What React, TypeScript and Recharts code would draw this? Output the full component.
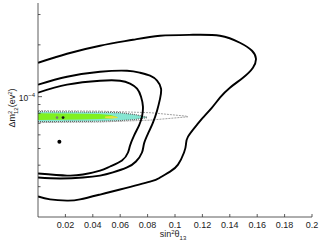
import React from 'react';
import { ComposedChart, Line, Area, Scatter, XAxis, YAxis } from 'recharts';

// axis ticks
const xTicks = [0.02, 0.04, 0.06, 0.08, 0.1, 0.12, 0.14, 0.16, 0.18, 0.2];
const yTicks = [3e-5, 4e-5, 5e-5, 6e-5, 7e-5, 8e-5, 9e-5, 1e-4, 2e-4, 3e-4];

// solid contours: [sin^2 theta13, dm2_12]
const outerContour: [number, number][] = [
  [0, 1.574e-4], [0.0212, 1.776e-4], [0.0453, 1.976e-4], [0.0693, 2.14e-4], [0.0891, 2.258e-4],
  [0.1131, 2.288e-4], [0.1328, 2.258e-4], [0.1474, 2.056e-4], [0.1562, 1.848e-4], [0.1591, 1.661e-4],
  [0.1569, 1.473e-4], [0.1496, 1.288e-4], [0.1401, 1.128e-4], [0.1328, 0.987e-4], [0.127, 8.64e-5],
  [0.1204, 7.56e-5], [0.1161, 6.88e-5], [0.1095, 5.86e-5], [0.108, 5.27e-5], [0.1066, 4.74e-5],
  [0.1022, 4.03e-5], [0.0964, 3.67e-5], [0.0891, 3.39e-5], [0.0818, 3.21e-5], [0.0599, 2.89e-5],
  [0.0453, 2.7e-5], [0.0307, 2.53e-5], [0.0212, 2.49e-5], [0.0088, 2.53e-5], [0, 2.63e-5],
];

const middleContour: [number, number][] = [
  [0, 1.174e-4], [0.0212, 1.306e-4], [0.0453, 1.396e-4], [0.065, 1.415e-4], [0.0745, 1.377e-4],
  [0.0818, 1.323e-4], [0.0869, 1.238e-4], [0.0898, 1.113e-4], [0.0891, 9.74e-5], [0.0869, 8.29e-5],
  [0.0839, 7.07e-5], [0.0803, 6.1e-5], [0.0774, 5.34e-5], [0.0759, 4.74e-5], [0.0715, 4.2e-5],
  [0.065, 3.88e-5], [0.0547, 3.63e-5], [0.0453, 3.48e-5], [0.0328, 3.39e-5], [0.0161, 3.35e-5],
  [0, 3.39e-5],
];

const innerContour: [number, number][] = [
  [0, 1.055e-4], [0.0212, 1.174e-4], [0.0453, 1.238e-4], [0.0599, 1.238e-4], [0.0672, 1.19e-4],
  [0.0723, 1.113e-4], [0.0752, 1.0e-4], [0.0766, 8.75e-5], [0.0759, 7.66e-5], [0.0737, 6.79e-5],
  [0.0701, 5.94e-5], [0.0672, 5.2e-5], [0.0657, 4.74e-5], [0.0613, 4.26e-5], [0.0526, 3.93e-5],
  [0.0453, 3.72e-5], [0.0328, 3.53e-5], [0.0212, 3.48e-5], [0, 3.58e-5],
];

// dashed contour
const dashedContour: [number, number][] = [
  [0, 8.29e-5], [0.045, 8.24e-5], [0.082, 8.07e-5], [0.108, 7.71e-5], [0.1095, 7.64e-5],
  [0.082, 7.31e-5], [0.045, 7.12e-5], [0, 7.07e-5],
];

// filled regions
const cyanX = [0, 0.0453, 0.0599, 0.0708, 0.0796];
const cyanHi = [8.18e-5, 8.13e-5, 8.07e-5, 7.87e-5, 7.61e-5];
const cyanLo = [7.16e-5, 7.2e-5, 7.26e-5, 7.36e-5, 7.56e-5];

const greenX = [0, 0.031, 0.045, 0.053, 0.058];
const greenHi = [8.02e-5, 7.97e-5, 7.92e-5, 7.82e-5, 7.61e-5];
const greenLo = [7.31e-5, 7.36e-5, 7.41e-5, 7.46e-5, 7.56e-5];

const yellowX = [0.049, 0.054, 0.058];
const yellowHi = [7.66e-5, 7.71e-5, 7.61e-5];
const yellowLo = [7.51e-5, 7.46e-5, 7.51e-5];

// best fit points
const bestFit: [number, number][] = [[0.0156, 5.48e-5]];
const bandFitBlack: [number, number][] = [[0.0183, 7.56e-5]];
const bandFitGray: [number, number][] = [[0.0139, 7.56e-5]];

const font = '"Liberation Sans", Arial, sans-serif';
const axisColor = '#333';

const toPts = (arr: [number, number][]) => arr.map(([x, y]) => ({ x, y }));
const toRange = (xs: number[], lo: number[], hi: number[]) =>
  xs.map((x, i) => ({ x, range: [lo[i], hi[i]] }));

const BottomTick = (props: any) => {
  const { x, y, payload } = props;
  return (
    <g>
      <line x1={x} x2={x} y1={y} y2={y - 3} stroke={axisColor} strokeWidth={0.8} />
      <text x={x} y={y + 11} textAnchor="middle" fontSize={9} fontFamily={font} fill="#222">
        {String(payload.value)}
      </text>
    </g>
  );
};

const TopTick = (props: any) => {
  const { x, y } = props;
  return <line x1={x} x2={x} y1={y} y2={y + 3} stroke={axisColor} strokeWidth={0.8} />;
};

const LeftTick = (props: any) => {
  const { x, y, payload } = props;
  const major = payload.value === 1e-4;
  return (
    <g>
      <line x1={x} x2={x + (major ? 4 : 2.5)} y1={y} y2={y} stroke={axisColor} strokeWidth={0.8} />
      {major && (
        <text x={x - 3} y={y + 4} textAnchor="end" fontSize={8.5} fontFamily={font} fill="#222">
          10<tspan dy={-4} fontSize={6}>−4</tspan>
        </text>
      )}
    </g>
  );
};

const RightTick = (props: any) => {
  const { x, y, payload } = props;
  const major = payload.value === 1e-4;
  return <line x1={x} x2={x - (major ? 4 : 2.5)} y1={y} y2={y} stroke={axisColor} strokeWidth={0.8} />;
};

const YLabel = (props: any) => {
  const vb = props.viewBox || { x: 0, y: 3, width: 38, height: 214 };
  const cx = 15;
  const cy = vb.y + vb.height / 2 - 2;
  return (
    <text
      x={cx}
      y={cy}
      transform={`rotate(-90, ${cx}, ${cy})`}
      textAnchor="middle"
      fontSize={9}
      fontFamily={font}
      fill="#222"
    >
      Δm<tspan dy={-3.5} fontSize={6}>2</tspan>
      <tspan dx={-3.3} dy={6} fontSize={6}>12</tspan>
      <tspan dy={-2.5}>(ev</tspan>
      <tspan dy={-3.5} fontSize={6}>2</tspan>
      <tspan dy={3.5}>)</tspan>
    </text>
  );
};

const XLabel = (props: any) => {
  const vb = props.viewBox || { x: 38, y: 217, width: 274, height: 30 };
  const cx = vb.x + vb.width / 2 - 2;
  const cy = 237;
  return (
    <text x={cx} y={cy} textAnchor="middle" fontSize={9} fontFamily={font} fill="#222">
      sin<tspan dy={-3.5} fontSize={6}>2</tspan>
      <tspan dy={3.5}>θ</tspan>
      <tspan dy={3} fontSize={6}>13</tspan>
    </text>
  );
};

export default function App() {
  return (
    <div style={{ position: 'absolute', left: 0, top: 0, width: 320, height: 247, background: '#fff' }}>
      <ComposedChart width={320} height={247} margin={{ top: 3, right: 8, bottom: 0, left: 0 }}>
        <XAxis
          xAxisId="bottom"
          type="number"
          dataKey="x"
          domain={[0, 0.2]}
          ticks={xTicks}
          interval={0}
          allowDataOverflow
          height={30}
          tickSize={0}
          tickMargin={0}
          tickLine={false}
          tick={<BottomTick />}
          axisLine={{ stroke: axisColor, strokeWidth: 0.8 }}
          label={<XLabel />}
        />
        <XAxis
          xAxisId="top"
          orientation="top"
          type="number"
          dataKey="x"
          domain={[0, 0.2]}
          ticks={xTicks}
          interval={0}
          allowDataOverflow
          height={0}
          tickSize={0}
          tickMargin={0}
          tickLine={false}
          tick={<TopTick />}
          axisLine={{ stroke: '#666', strokeWidth: 0.8 }}
        />
        <YAxis
          yAxisId="left"
          type="number"
          scale="log"
          domain={[2e-5, 3.5e-4]}
          ticks={yTicks}
          interval={0}
          allowDataOverflow
          width={38}
          tickSize={0}
          tickMargin={0}
          tickLine={false}
          tick={<LeftTick />}
          axisLine={{ stroke: axisColor, strokeWidth: 0.8 }}
          label={<YLabel />}
        />
        <YAxis
          yAxisId="right"
          orientation="right"
          type="number"
          scale="log"
          domain={[2e-5, 3.5e-4]}
          ticks={yTicks}
          interval={0}
          allowDataOverflow
          width={0}
          tickSize={0}
          tickMargin={0}
          tickLine={false}
          tick={<RightTick />}
          axisLine={{ stroke: '#666', strokeWidth: 0.8 }}
        />

        <Area
          xAxisId="bottom"
          yAxisId="left"
          data={toRange(cyanX, cyanLo, cyanHi)}
          dataKey="range"
          type="linear"
          fill="#86e6d2"
          fillOpacity={1}
          stroke="#666"
          strokeWidth={1.2}
          strokeDasharray="1 1"
          isAnimationActive={false}
        />
        <Area
          xAxisId="bottom"
          yAxisId="left"
          data={toRange(greenX, greenLo, greenHi)}
          dataKey="range"
          type="linear"
          fill="#80f020"
          fillOpacity={1}
          stroke="none"
          isAnimationActive={false}
        />
        <Area
          xAxisId="bottom"
          yAxisId="left"
          data={toRange(yellowX, yellowLo, yellowHi)}
          dataKey="range"
          type="linear"
          fill="#e8e040"
          fillOpacity={1}
          stroke="none"
          isAnimationActive={false}
        />
        <Line
          xAxisId="bottom"
          yAxisId="left"
          data={toPts(dashedContour)}
          dataKey="y"
          type="linear"
          stroke="#888"
          strokeWidth={0.8}
          strokeDasharray="2 1"
          dot={false}
          isAnimationActive={false}
        />
        <Scatter
          xAxisId="bottom"
          yAxisId="left"
          data={toPts(bandFitGray)}
          dataKey="y"
          fill="#777"
          shape={(p: any) => <circle cx={p.cx} cy={p.cy} r={1.3} fill="#777" />}
          isAnimationActive={false}
        />
        <Scatter
          xAxisId="bottom"
          yAxisId="left"
          data={toPts(bandFitBlack)}
          dataKey="y"
          fill="#111"
          shape={(p: any) => <circle cx={p.cx} cy={p.cy} r={1.4} fill="#111" />}
          isAnimationActive={false}
        />
        <Scatter
          xAxisId="bottom"
          yAxisId="left"
          data={toPts(bestFit)}
          dataKey="y"
          fill="#000"
          shape={(p: any) => <circle cx={p.cx} cy={p.cy} r={2} fill="#000" />}
          isAnimationActive={false}
        />
        {[outerContour, middleContour, innerContour].map((c, i) => (
          <Line
            key={i}
            xAxisId="bottom"
            yAxisId="left"
            data={toPts(c)}
            dataKey="y"
            type="natural"
            stroke="#000"
            strokeWidth={1.9}
            dot={false}
            isAnimationActive={false}
          />
        ))}
      </ComposedChart>
    </div>
  );
}
